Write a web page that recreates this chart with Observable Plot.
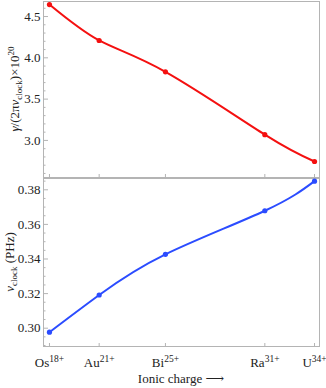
<!DOCTYPE html>
<html><head><meta charset="utf-8">
<script src="https://cdn.jsdelivr.net/npm/d3@7"></script>
<script src="https://cdn.jsdelivr.net/npm/@observablehq/plot@0.6"></script>
<style>
body{margin:0;background:#fff}
#c{width:326px;height:388px;position:relative}
#c svg{display:block}
</style>
</head><body><div id="c"></div>
<script>
// Data
const ions = ["Os", "Au", "Bi", "Ra", "U"];
const charges = [18, 21, 25, 31, 34];
const gammaRatio = [4.645, 4.21, 3.83, 3.07, 2.745];     // γ/(2πν_clock) ×10^20
const nuClock = [0.2977, 0.3192, 0.3427, 0.3679, 0.385]; // PHz
const topTicks = [3.0, 3.5, 4.0, 4.5];
const bottomTicks = [0.30, 0.32, 0.34, 0.36, 0.38];
const topMinor = d3.range(26, 47).map(d => d / 10);
const bottomMinor = d3.range(58, 78).map(d => d / 200);

const rows = charges.map((c, i) => ({charge: c, ion: ions[i], g: gammaRatio[i], nu: nuClock[i]}));

const FONT = "'Liberation Serif','DejaVu Serif',serif";
const GRID = "#b4b4b4";
const xDomain = [17.64, 34.3];
const W = 326, ML = 43, MR = 7;

function baseStyle() {
  return {fontFamily: FONT, fontSize: "13px", color: "#222", background: "white", overflow: "visible"};
}

const topPlot = Plot.plot({
  width: W, height: 178, marginLeft: ML, marginRight: MR, marginTop: 1, marginBottom: 1,
  style: baseStyle(),
  x: {domain: xDomain},
  y: {domain: [2.551, 4.682]},
  marks: [
    Plot.axisY({ticks: topTicks, tickSize: 0, tickPadding: 3, tickFormat: d3.format(".1f"), label: null}),
    Plot.axisY({ticks: topTicks, tickSize: -5, text: null, stroke: GRID, label: null}),
    Plot.axisY({ticks: topMinor.filter(v => !topTicks.some(t => Math.abs(t - v) < 1e-9)), tickSize: -2.5, text: null, stroke: GRID, label: null}),
    Plot.axisX({ticks: charges, tickSize: -3, text: null, stroke: GRID, label: null}),
    Plot.frame({stroke: GRID}),
    Plot.line(rows, {x: "charge", y: "g", stroke: "#f41010", strokeWidth: 2, curve: "natural"}),
    Plot.dot(rows, {x: "charge", y: "g", fill: "#f41010", r: 2.6})
  ]
});

const bottomPlot = Plot.plot({
  width: W, height: 210, marginLeft: ML, marginRight: MR, marginTop: 0, marginBottom: 42,
  style: baseStyle(),
  x: {domain: xDomain},
  y: {domain: [0.28942, 0.38653]},
  marks: [
    Plot.axisY({ticks: bottomTicks, tickSize: 0, tickPadding: 3, tickFormat: d3.format(".2f"), label: null}),
    Plot.axisY({ticks: bottomTicks, tickSize: -5, text: null, stroke: GRID, label: null}),
    Plot.axisY({ticks: bottomMinor.filter(v => !bottomTicks.some(t => Math.abs(t - v) < 1e-9)), tickSize: -2.5, text: null, stroke: GRID, label: null}),
    Plot.axisX({ticks: charges, tickSize: -3, text: null, stroke: GRID, label: null}),
    Plot.axisX({ticks: charges, tickSize: 0, tickPadding: 11, label: null,
      tickFormat: c => ions[charges.indexOf(c)] + "^" + c + "+"}),
    Plot.frame({stroke: GRID}),
    Plot.line(rows, {x: "charge", y: "nu", stroke: "#2b4cff", strokeWidth: 2, curve: "natural"}),
    Plot.dot(rows, {x: "charge", y: "nu", fill: "#2b4cff", r: 2.6})
  ]
});

// superscripts on x tick labels
d3.select(bottomPlot).selectAll("text").each(function() {
  const s = this.textContent;
  if (s.includes("^")) {
    const [a, b] = s.split("^");
    const t = d3.select(this);
    t.text(null);
    t.append("tspan").text(a);
    t.append("tspan").attr("dy", "-5").attr("font-size", "9.5px").text(b);
  }
});

// y-axis labels
function ylabel(svg, x, y) {
  return d3.select(svg).append("text")
    .attr("transform", `translate(${x},${y}) rotate(-90)`)
    .attr("text-anchor", "middle")
    .attr("font-family", FONT).attr("font-size", "13px").attr("fill", "#222");
}
const tl = ylabel(topPlot, 19, 89);
tl.append("tspan").attr("font-style", "italic").text("γ");
tl.append("tspan").text("/(2π");
tl.append("tspan").attr("font-style", "italic").text("ν");
tl.append("tspan").attr("dy", "3").attr("font-size", "9px").text("clock");
tl.append("tspan").attr("dy", "-3").text(")×10");
tl.append("tspan").attr("dy", "-5").attr("font-size", "9px").text("20");

const bl = ylabel(bottomPlot, 14, 84);
bl.append("tspan").attr("font-style", "italic").text("ν");
bl.append("tspan").attr("dy", "3").attr("font-size", "9px").text("clock");
bl.append("tspan").attr("dy", "-3").text(" (PHz)");

// x-axis label
d3.select(bottomPlot).append("text")
  .attr("x", (ML + W - MR) / 2).attr("y", 205)
  .attr("text-anchor", "middle")
  .attr("font-family", FONT).attr("font-size", "13px").attr("fill", "#222")
  .text("Ionic charge ⟶");

const c = document.getElementById("c");
c.append(topPlot);
c.append(bottomPlot);
</script>
</body></html>
